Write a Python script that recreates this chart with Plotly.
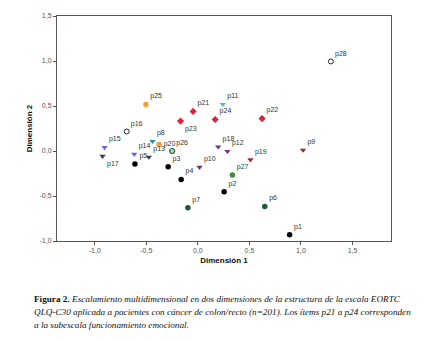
import plotly.graph_objects as go

labels = ["p1","p2","p3","p4","p5","p6","p7","p8","p9","p10","p11","p12","p13","p14",
          "p15","p16","p17","p18","p19","p20","p21","p22","p23","p24","p25","p26","p27","p28"]
dim1 = [0.89, 0.255, -0.288, -0.162, -0.61, 0.649, -0.097, -0.44, 1.02, 0.016, 0.242, 0.287, -0.475, -0.617,
        -0.905, -0.69, -0.924, 0.197, 0.51, -0.375, -0.046, 0.623, -0.168, 0.168, -0.504, -0.249, 0.335, 1.29]
dim2 = [-0.93, -0.454, -0.176, -0.317, -0.144, -0.616, -0.63, 0.108, 0.011, -0.18, 0.519, -0.003, -0.068, -0.036,
        0.04, 0.216, -0.057, 0.047, -0.097, 0.072, 0.44, 0.36, 0.332, 0.35, 0.516, 0.0, -0.266, 0.995]
groups = ["black","black","black","black","black","dkgreen","dkgreen","teal","darkred","purple","cyan","purple","gray","blue",
          "blue","open","gray","purple","darkred","orange","red","red","red","red","orange","open26","green27","open"]
label_pos = {"p23": "bottom right", "p17": "bottom right", "p20": "middle right"}

x_ticks = [-1.0, -0.5, 0.0, 0.5, 1.0, 1.5]
x_ticktext = ["-1,0", "-0,5", "0,0", "0,5", "1,0", "1,5"]
y_ticks = [-1.0, -0.5, 0.0, 0.5, 1.0, 1.5]
y_ticktext = ["-1,0", "-0,5", "0,0", "0,5", "1,0", "1,5"]

styles = {
    "black":   dict(symbol="circle", color="#000000", size=5.5, line=dict(width=0)),
    "dkgreen": dict(symbol="circle", color="#1d5a3c", size=5.5, line=dict(width=0)),
    "green27": dict(symbol="circle", color="#3f8a4c", size=5.5, line=dict(width=0)),
    "open":    dict(symbol="circle-open", color="#222222", size=5, line=dict(width=1)),
    "open26":  dict(symbol="circle", color="#b8d0b8", size=5, line=dict(width=1.2, color="#2e6a48")),
    "orange":  dict(symbol="circle", color="#f0a030", size=5.5, line=dict(width=0)),
    "red":     dict(symbol="diamond", color="#e0203c", size=5.5, line=dict(width=0)),
    "teal":    dict(symbol="triangle-down", color="#2a8ca0", size=5.5, line=dict(width=0)),
    "cyan":    dict(symbol="triangle-down", color="#48c4b4", size=5.5, line=dict(width=0)),
    "blue":    dict(symbol="triangle-down", color="#6464e0", size=5.5, line=dict(width=0)),
    "gray":    dict(symbol="triangle-down", color="#404040", size=5.5, line=dict(width=0)),
    "purple":  dict(symbol="triangle-down", color="#74308c", size=5.5, line=dict(width=0)),
    "darkred": dict(symbol="triangle-down", color="#a02828", size=5.5, line=dict(width=0)),
}

fig = go.Figure()
for g, st in styles.items():
    idx = [i for i, gg in enumerate(groups) if gg == g]
    fig.add_trace(go.Scatter(
        x=[dim1[i] for i in idx], y=[dim2[i] for i in idx],
        mode="markers+text",
        text=[labels[i] for i in idx],
        textposition=[label_pos.get(labels[i], "top right") for i in idx],
        textfont=dict(family="Liberation Sans, Arial", size=7, color="#333333"),
        marker=dict(symbol=st["symbol"], color=st["color"], size=st["size"], line=st["line"]),
        showlegend=False, cliponaxis=False,
    ))

axis_common = dict(showgrid=False, zeroline=False, showline=True, mirror=True,
                   linecolor="#555555", linewidth=1, ticks="outside", ticklen=3,
                   tickcolor="#555555",
                   tickfont=dict(family="Liberation Sans, Arial", size=7, color="#555555"))

# page body has an 8px margin; figure is offset by it inside the 422x341 window
W, H = 414, 325
ML, MR, MT, MB = 49, 31, 4, 92
fig.update_layout(
    width=W, height=H,
    margin=dict(l=ML, r=MR, t=MT, b=MB),
    plot_bgcolor="white", paper_bgcolor="white",
    xaxis=dict(range=[-1.366, 1.873], tickvals=x_ticks, ticktext=x_ticktext,
               title=dict(text="<b>Dimensión 1</b>", standoff=3,
                          font=dict(family="Liberation Sans, Arial", size=8, color="#111111")),
               **axis_common),
    yaxis=dict(range=[-1.0, 1.5], tickvals=y_ticks, ticktext=y_ticktext,
               title=dict(text="<b>Dimensión 2</b>", standoff=5,
                          font=dict(family="Liberation Sans, Arial", size=8, color="#111111")),
               **axis_common),
)

caption_lines = [
    "<b>Figura 2.</b> <i>Escalamiento multidimensional en dos dimensiones de la estructura de la escala EORTC</i>",
    "<i>QLQ-C30 aplicada a pacientes con cáncer de colon/recto (n=201). Los ítems p21 a p24 corresponden</i>",
    "<i>a la subescala funcionamiento emocional.</i>",
]
plot_w = W - ML - MR
plot_h = H - MT - MB
for k, line in enumerate(caption_lines):
    ypix = 300 - 8 + 13 * k
    fig.add_annotation(
        text=line, xref="paper", yref="paper",
        x=(24 - ML) / plot_w, y=(H - MB - ypix) / plot_h,
        xanchor="left", yanchor="middle", showarrow=False,
        font=dict(family="Liberation Serif, Times New Roman", size=9.2, color="#111111"),
    )

fig.write_html("out.html")
